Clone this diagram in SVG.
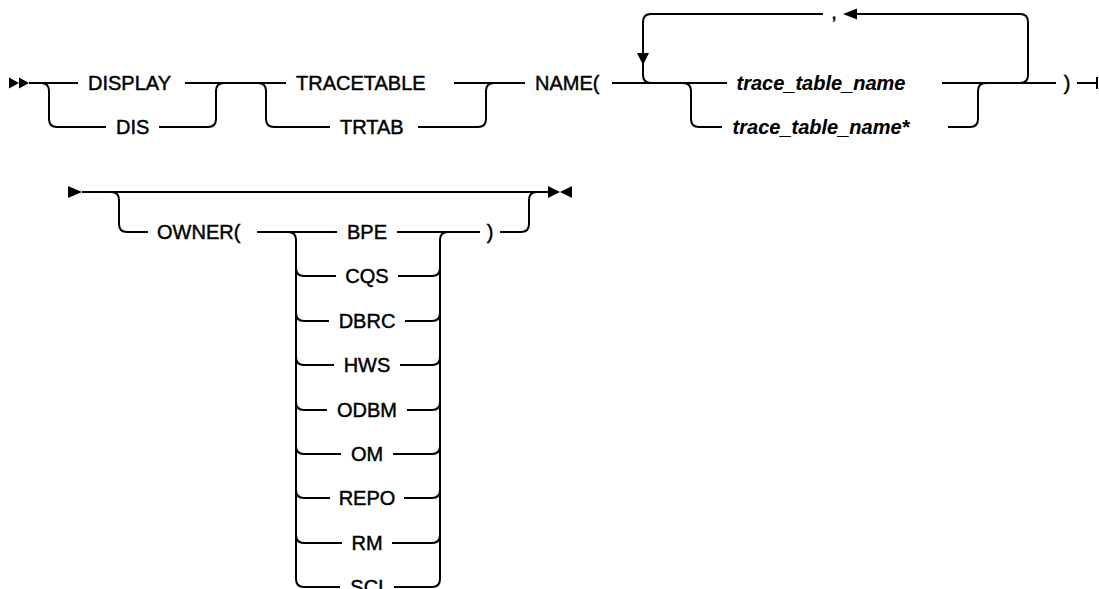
<svg xmlns="http://www.w3.org/2000/svg" width="1099" height="589" viewBox="0 0 1099 589">
<style>
.ln{fill:none;stroke:#000;stroke-width:2}
.ah{fill:#000;stroke:none}
text{font-family:"Liberation Sans",Arial,sans-serif;font-size:20px;fill:#000;stroke:#000;stroke-width:0.45}
.v{font-style:italic;font-weight:bold;stroke-width:0.1}
.c{text-anchor:middle}
</style>
<rect width="1099" height="589" fill="#fff"/>
<g id="connectors">
<polygon class="ah" points="9,77.5 19,83 9,88.5"/>
<polygon class="ah" points="19,77.5 29,83 19,88.5"/>
<path class="ln" d="M29,83 H78"/>
<path class="ln" d="M41,83 Q49,83 49,91 V119 Q49,127 57,127 H106"/>
<path class="ln" d="M159,127 H208 Q216,127 216,119 V91 Q216,83 224,83"/>
<path class="ln" d="M185,83 H286"/>
<path class="ln" d="M258,83 Q266,83 266,91 V119 Q266,127 274,127 H330"/>
<path class="ln" d="M418,127 H478 Q486,127 486,119 V91 Q486,83 494,83"/>
<path class="ln" d="M454,83 H525"/>
<path class="ln" d="M612,83 H727"/>
<path class="ln" d="M651,83 Q643,83 643,75 V22 Q643,14 651,14 H823"/>
<polygon class="ah" points="637,53 649,53 643,65"/>
<path class="ln" d="M857,14 H1020 Q1028,14 1028,22 V75 Q1028,83 1020,83"/>
<polygon class="ah" points="857,8.5 857,19.5 843,14"/>
<path class="ln" d="M683,83 Q691,83 691,91 V119 Q691,127 699,127 H722"/>
<path class="ln" d="M942,83 H1056"/>
<path class="ln" d="M948,127 H970 Q978,127 978,119 V91 Q978,83 986,83"/>
<path class="ln" d="M1077,83 H1097 M1097,77 V89"/>

<polygon class="ah" points="68,186 82,192 68,198"/>
<path class="ln" d="M82,192 H548"/>
<path class="ln" d="M111,192 Q119,192 119,200 V224 Q119,232 127,232 H148"/>
<path class="ln" d="M257,232 H337"/>
<path class="ln" d="M397,232 H480"/>
<path class="ln" d="M500,232 H521 Q529,232 529,224 V200 Q529,192 537,192"/>
<polygon class="ah" points="548,186 560,192 548,198"/>
<polygon class="ah" points="572,186 560,192 572,198"/>
<path class="ln" d="M288,232 Q296,232 296,240 V579 Q296,587 304,587 H340"/>
<path class="ln" d="M448,232 Q440,232 440,240 V579 Q440,587 432,587 H394"/>
<path class="ln" d="M296,268 Q296,276 304,276 H336 M398,276 H432 Q440,276 440,268"/>
<path class="ln" d="M296,313 Q296,321 304,321 H329 M405,321 H432 Q440,321 440,313"/>
<path class="ln" d="M296,357 Q296,365 304,365 H334 M400,365 H432 Q440,365 440,357"/>
<path class="ln" d="M296,402 Q296,410 304,410 H327 M407,410 H432 Q440,410 440,402"/>
<path class="ln" d="M296,446 Q296,454 304,454 H341 M393,454 H432 Q440,454 440,446"/>
<path class="ln" d="M296,490 Q296,498 304,498 H330 M404,498 H432 Q440,498 440,490"/>
<path class="ln" d="M296,535 Q296,543 304,543 H342 M392,543 H432 Q440,543 440,535"/>
</g>
<g id="n-display"><text x="88" y="90">DISPLAY</text></g>
<g id="n-dis"><text x="116" y="134">DIS</text></g>
<g id="n-tracetable"><text x="296" y="90">TRACETABLE</text></g>
<g id="n-trtab"><text x="340" y="134">TRTAB</text></g>
<g id="n-name"><text x="535" y="90">NAME(</text></g>
<g id="n-comma"><text class="c" x="834" y="19">,</text></g>
<g id="n-ttn"><text class="v c" x="821" y="90">trace_table_name</text></g>
<g id="n-ttn-star"><text class="v c" x="821" y="134">trace_table_name*</text></g>
<g id="n-rparen1"><text class="c" x="1067" y="90">)</text></g>
<g id="n-owner"><text x="157" y="239">OWNER(</text></g>
<g id="n-bpe"><text class="c" x="367" y="239">BPE</text></g>
<g id="n-cqs"><text class="c" x="367" y="283">CQS</text></g>
<g id="n-dbrc"><text class="c" x="367" y="328">DBRC</text></g>
<g id="n-hws"><text class="c" x="367" y="372">HWS</text></g>
<g id="n-odbm"><text class="c" x="367" y="417">ODBM</text></g>
<g id="n-om"><text class="c" x="367" y="461">OM</text></g>
<g id="n-repo"><text class="c" x="367" y="505">REPO</text></g>
<g id="n-rm"><text class="c" x="367" y="550">RM</text></g>
<g id="n-sci"><text class="c" x="367" y="594">SCI</text></g>
<g id="n-rparen2"><text class="c" x="490" y="239">)</text></g>
</svg>
